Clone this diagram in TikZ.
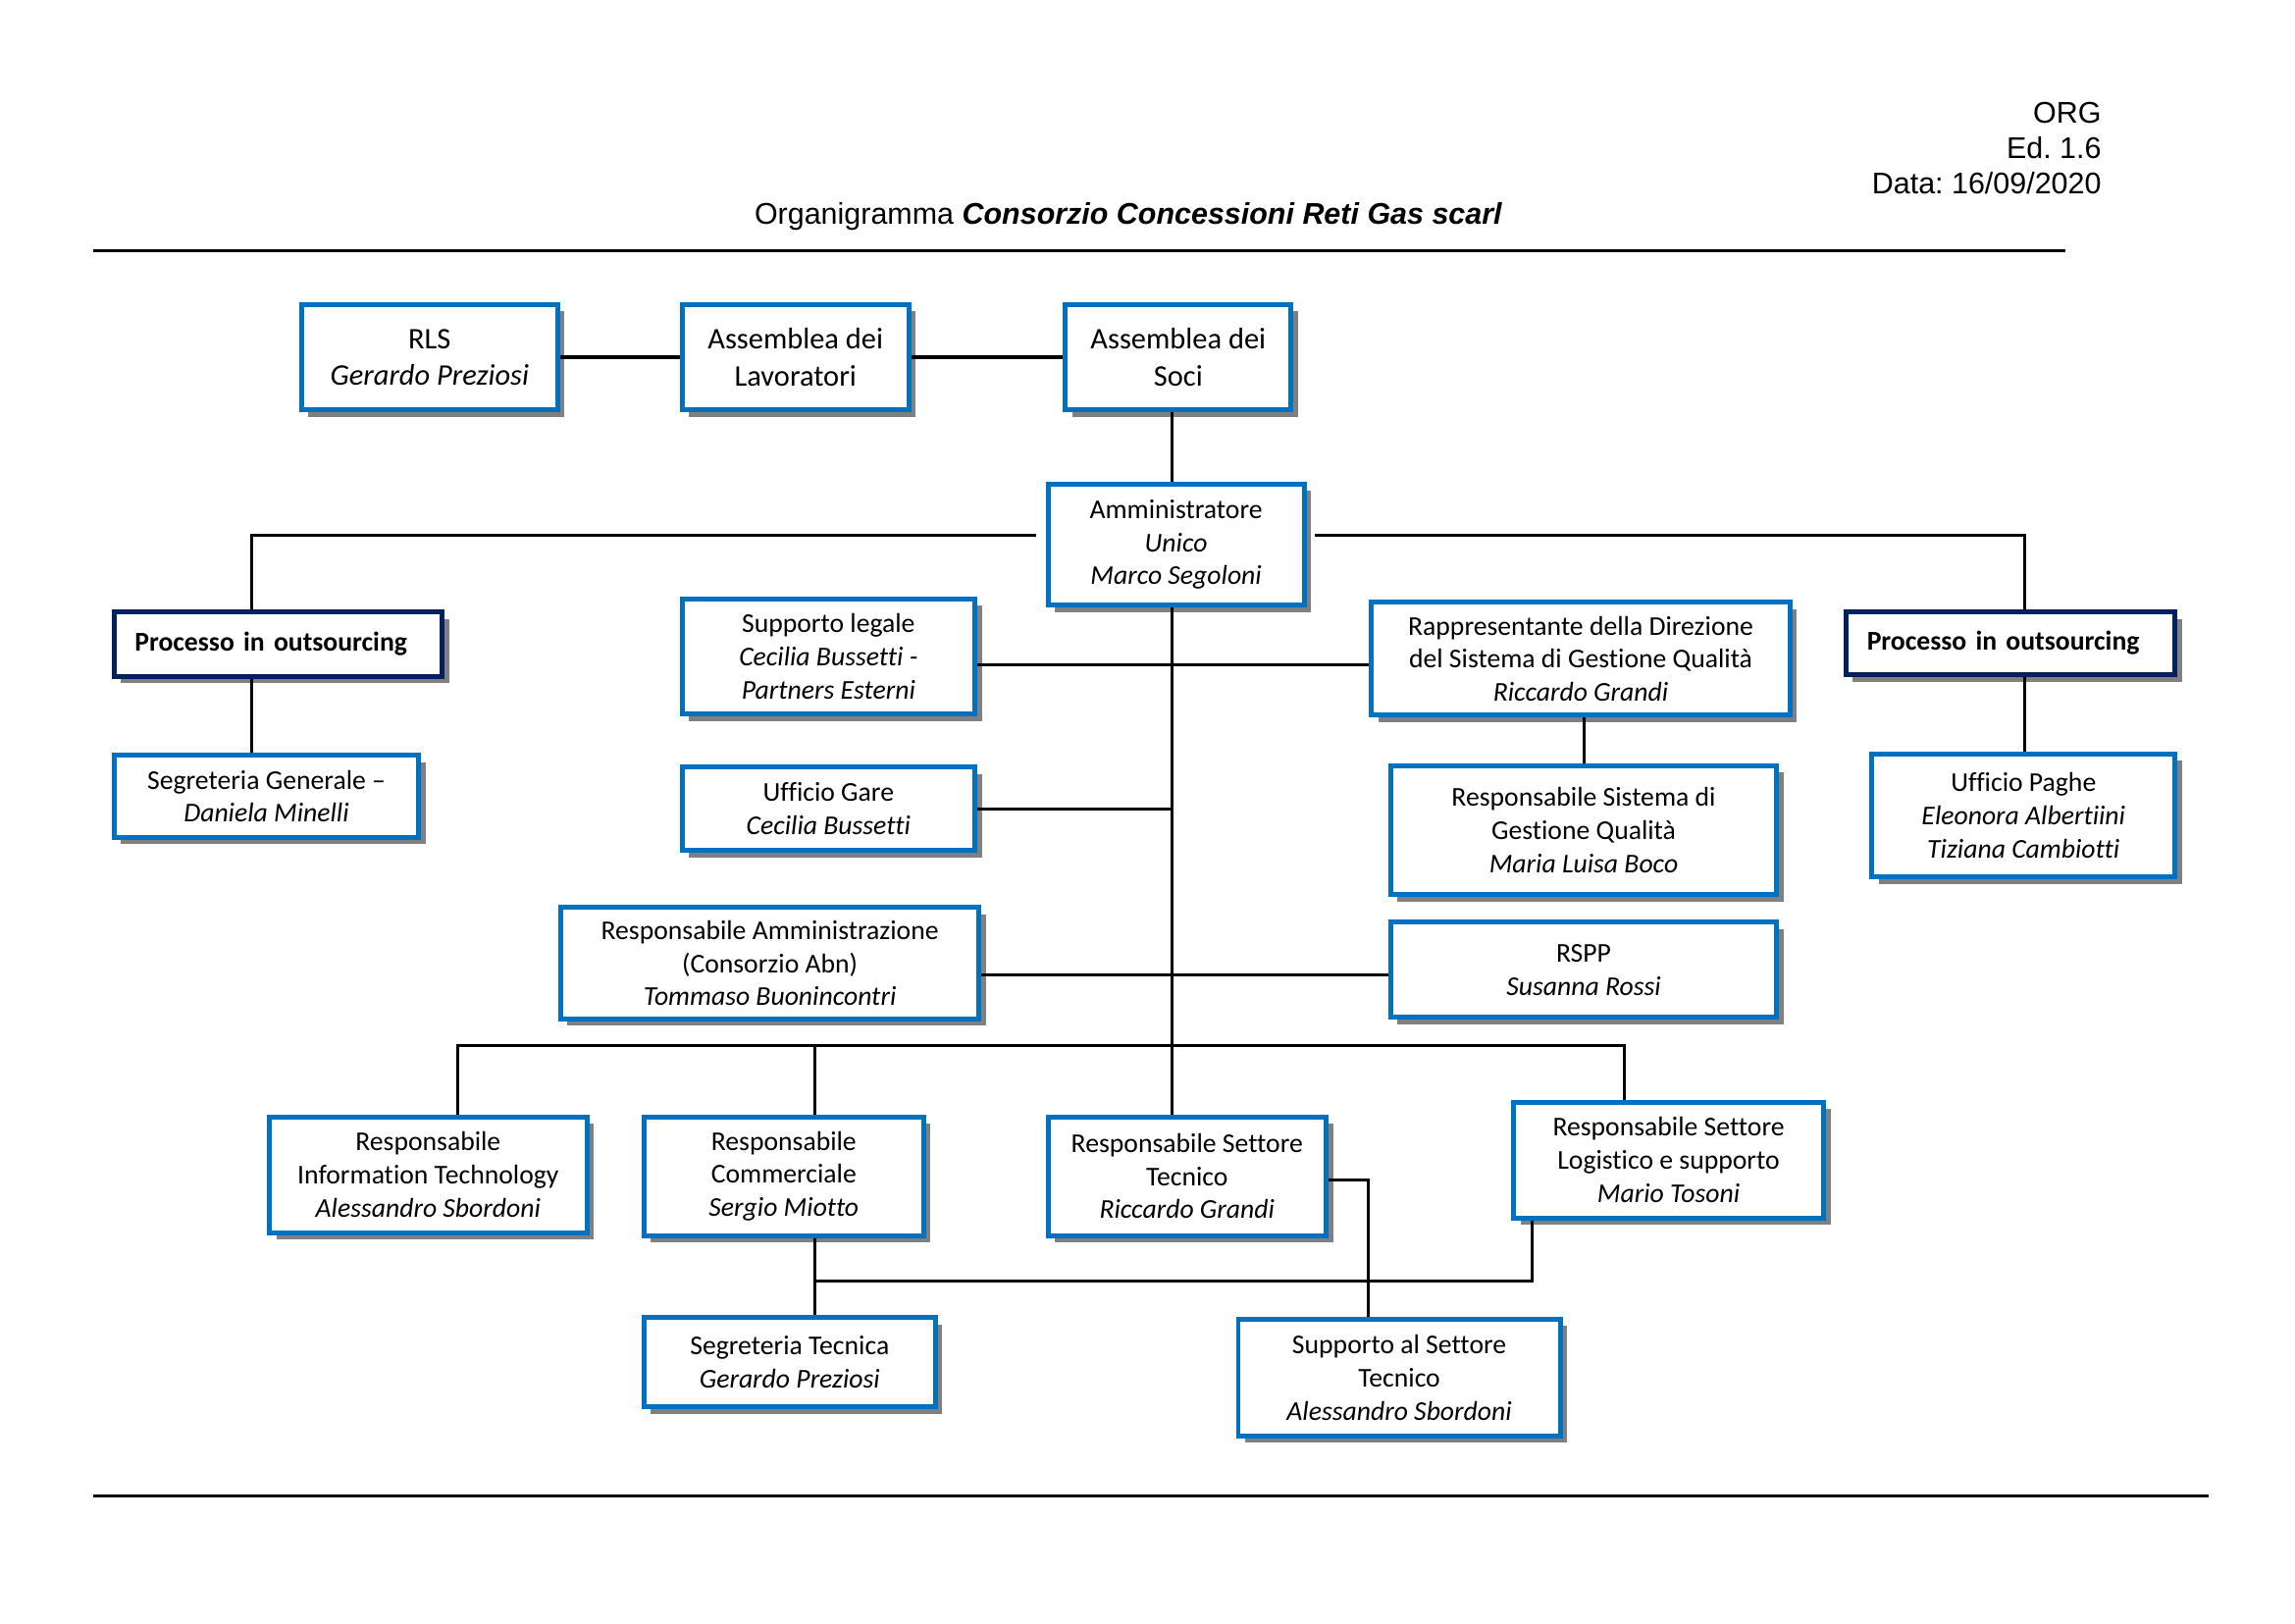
\documentclass[tikz,border=0pt]{standalone}
\usepackage{fontspec}
\setmainfont{Carlito}[Ligatures={NoCommon}]
\newfontfamily\hdrfont{Liberation Sans}
\usetikzlibrary{shadows}
\frenchspacing

\definecolor{cblue}{HTML}{0070C0}
\definecolor{cnavy}{HTML}{002060}
\definecolor{shgray}{RGB}{128,128,128}
\newdimen\px \px=0.018941cm

\tikzset{
  box/.style={draw=cblue, line width=1.8pt, fill=white, align=center, inner sep=2pt,
    font=\fontsize{10}{12.2}\selectfont,
    drop shadow={shadow xshift=0.09cm, shadow yshift=-0.09cm, fill=shgray, opacity=1}},
  bigbox/.style={box, font=\fontsize{11}{13.5}\selectfont},
  outbox/.style={box, draw=cnavy, align=left, text width=3.71cm,
    font=\bfseries\fontsize{10}{12.2}\selectfont},
  sz/.style 2 args={minimum width=#1*\px, minimum height=#2*\px},
  link/.style={line width=1.1pt},
  hdr/.style={font=\hdrfont\fontsize{11}{13}\selectfont, inner sep=0pt}
}

\begin{document}
\begin{tikzpicture}[x=0.018941cm, y=-0.018941cm]
  \useasboundingbox (0,0) rectangle (1568,1108.8);

  % intestazione
  \node[hdr, anchor=east, align=right] (ed) at (1436,101) {ORG\\Ed. 1.6\\Data: 16/09/2020};
  \node[hdr] (titolo) at (771,148) {Organigramma \textbf{\textit{Consorzio Concessioni Reti Gas scarl}}};
  \draw[link] (64,171) -- (1411,171);
  \draw[link] (64,1022) -- (1509,1022);

  % vertice
  \node[bigbox, sz={175}{72}] (rls) at (293.5,244) {RLS\\\textit{Gerardo Preziosi}};
  \node[bigbox, sz={155}{72}] (alav) at (543.5,244) {Assemblea dei\\Lavoratori};
  \node[bigbox, sz={154}{72}] (asoci) at (805,244) {Assemblea dei\\Soci};
  \node[box, sz={175}{83}] (amm) at (803.5,372) {Amministratore\\\textit{Unico}\\\textit{Marco Segoloni}};

  % outsourcing
  \node[outbox, sz={224}{44}] (outl) at (190,440) {Processo in outsourcing};
  \node[box, sz={208}{56}] (segg) at (182,544) {Segreteria Generale –\\\textit{Daniela Minelli}};
  \node[outbox, sz={225}{43}] (outr) at (1373.5,439.5) {Processo in outsourcing};
  \node[box, sz={207}{84}] (paghe) at (1382.5,557) {Ufficio Paghe\\\textit{Eleonora Albertiini}\\\textit{Tiziana Cambiotti}};

  % staff
  \node[box, sz={200}{79}] (legale) at (566,448.5) {Supporto legale\\\textit{Cecilia Bussetti -}\\\textit{Partners Esterni}};
  \node[box, sz={200}{57}] (gare) at (566,552.5) {Ufficio Gare\\\textit{Cecilia Bussetti}};
  \node[box, sz={286}{76}] (ammre) at (526,658) {Responsabile Amministrazione\\(Consorzio Abn)\\\textit{Tommaso Buonincontri}};
  \node[box, sz={286}{77}] (rdir) at (1080,450) {Rappresentante della Direzione\\del Sistema di Gestione Qualità\\\textit{Riccardo Grandi}};
  \node[box, sz={264}{88}] (rsgq) at (1082,567) {Responsabile Sistema di\\Gestione Qualità\\\textit{Maria Luisa Boco}};
  \node[box, sz={264}{65}] (rspp) at (1082,662.5) {RSPP\\\textit{Susanna Rossi}};

  % settori
  \node[box, sz={217}{79}] (rit) at (292.5,802.5) {Responsabile\\Information Technology\\\textit{Alessandro Sbordoni}};
  \node[box, sz={191}{81}] (rcomm) at (535.5,803.5) {Responsabile\\Commerciale\\\textit{Sergio Miotto}};
  \node[box, sz={190}{81}] (rtec) at (811,803.5) {Responsabile Settore\\Tecnico\\\textit{Riccardo Grandi}};
  \node[box, sz={212}{79}] (rlog) at (1140,792.5) {Responsabile Settore\\Logistico e supporto\\\textit{Mario Tosoni}};
  \node[box, sz={199}{61}] (segt) at (539.5,930.5) {Segreteria Tecnica\\\textit{Gerardo Preziosi}};
  \node[box, sz={220}{80}] (supt) at (956,941) {Supporto al Settore\\Tecnico\\\textit{Alessandro Sbordoni}};

  % punti di snodo
  \coordinate (spn) at (801,366);
  \coordinate (hl) at (708,366);
  \coordinate (hr) at (898,366);
  \coordinate (tl) at (172,366);
  \coordinate (tr) at (1383,366);
  \coordinate (bl) at (313,714);
  \coordinate (br) at (1110,714);
  \coordinate (cm) at (557,714);
  \coordinate (lb) at (1047,875);
  \coordinate (tk) at (935,806);

  % collegamenti
  \draw[link] (rls.east) -- (alav.west);
  \draw[link] (alav.east) -- (asoci.west);
  \draw[link] (spn |- asoci.south) -- (spn |- amm.north);
  \draw[link] (hl) -- (tl) -- (tl |- outl.north);
  \draw[link] (tl |- outl.south) -- (tl |- segg.north);
  \draw[link] (hr) -- (tr) -- (tr |- outr.north);
  \draw[link] (tr |- outr.south) -- (tr |- paghe.north);
  \draw[link] (spn |- amm.south) -- (spn |- rtec.north);
  \draw[link] (legale.east |- 0,454) -- (rdir.west |- 0,454);
  \draw[link] (gare.east) -- (gare.east -| spn);
  \draw[link] (ammre.east |- 0,666) -- (rspp.west |- 0,666);
  \draw[link] (rsgq.north |- rdir.south) -- (rsgq.north);
  \draw[link] (bl |- rit.north) -- (bl) -- (br) -- (br |- rlog.north);
  \draw[link] (cm) -- (cm |- rcomm.north);
  \draw[link] (cm |- rcomm.south) -- (cm |- segt.north);
  \draw[link] (cm |- lb) -- (lb) -- (lb |- rlog.south);
  \draw[link] (rtec.east |- tk) -- (tk) -- (tk |- supt.north);
\end{tikzpicture}
\end{document}
